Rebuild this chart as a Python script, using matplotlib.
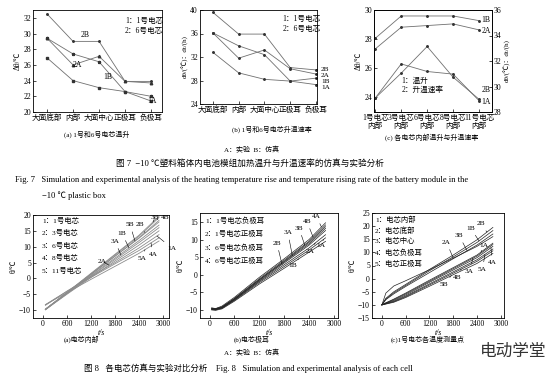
import matplotlib
matplotlib.use("Agg")
import matplotlib.pyplot as plt

plt.rcParams['font.family'] = ['Liberation Serif', 'Noto Sans CJK SC']
plt.rcParams['axes.unicode_minus'] = True

W, H = 554, 378

# ---- Fig 7 data ----
pos7 = ["大面底部", "内部", "大面中心", "正极耳", "负极耳"]
rise_1A = [26.9, 24.0, 23.1, 22.6, 21.4]
rise_1B = [29.4, 27.4, 26.4, 22.6, 22.0]
rise_2A = [29.4, 26.0, 27.1, 23.9, 23.7]
rise_2B = [32.5, 29.0, 29.0, 23.9, 23.9]

rate_1A = [32.8, 29.3, 28.2, 27.9, 27.3]
rate_1B = [36.1, 33.9, 32.4, 27.9, 28.4]
rate_2A = [36.1, 31.8, 33.2, 30.0, 29.1]
rate_2B = [39.6, 35.9, 35.9, 30.2, 29.8]
rate_lbl_y = [29.9, 28.9, 27.9, 26.8]   # label heights for 2B, 2A, 1B, 1A

cells7 = ["1号电芯\n内部", "3号电芯\n内部", "6号电芯\n内部", "8号电芯\n内部", "11号电芯\n内部"]
cell_rise_A = [23.96, 26.3, 25.78, 25.6, 23.78]   # left axis
cell_rise_B = [28.06, 29.59, 29.59, 29.59, 29.27]
cell_rate_A = [32.95, 34.65, 34.78, 34.91, 34.44]  # right axis
cell_rate_B = [29.1, 31.05, 33.14, 30.73, 29.0]

# ---- Fig 8 data ----
t8a = [60, 300, 600, 1200, 1800, 2400, 2900]
core = {
    "3B": [-9.8, -7.4, -4.4, 1.6, 7.6, 13.6, 19.6],
    "4B": [-9.8, -7.4, -4.5, 1.4, 7.4, 13.3, 19.2],
    "5B": [-9.7, -7.4, -4.5, 1.3, 7.0, 12.7, 17.8],
    "2B": [-9.8, -7.5, -4.6, 1.2, 7.0, 12.8, 18.3],
    "1B": [-9.7, -7.5, -4.7, 0.9, 6.4, 11.9, 16.8],
    "3A": [-9.9, -7.6, -4.8, 0.7, 6.0, 11.3, 16.0],
    "2A": [-9.9, -7.7, -5.0, 0.3, 5.5, 10.5, 15.0],
    "1A": [-8.5, -6.5, -4.0, 0.6, 5.0, 9.6, 13.8],
    "4A": [-8.3, -6.4, -4.1, 0.3, 4.6, 8.8, 12.8],
    "5A": [-8.3, -6.6, -4.5, -0.3, 3.8, 7.9, 11.8],
}
core_lbl = {"3B": (2800, 19.2), "4B": (3050, 19.2), "5B": (2175, 17.0), "2B": (2425, 17.0),
            "1B": (1975, 14.2), "3A": (1800, 11.7), "2A": (1475, 5.4), "1A": (3230, 9.5),
            "4A": (2750, 7.6), "5A": (2475, 6.3)}
core_at = {"3B": 2750, "4B": 2850, "5B": 2300, "2B": 2550, "1B": 2150, "3A": 1950,
           "2A": 1650, "1A": 2850, "4A": 2700, "5A": 2550}

t8b = [50, 150, 300, 600, 1200, 1800, 2400, 2800]
tab = {
    "4A": [-9.6, -9.7, -9.0, -6.5, -0.8, 4.5, 10.0, 14.8],
    "4B": [-9.8, -9.9, -9.3, -6.8, -1.2, 4.1, 9.5, 14.2],
    "3B": [-9.9, -10.0, -9.4, -7.0, -1.5, 3.8, 9.2, 13.7],
    "3A": [-9.5, -9.7, -9.2, -6.9, -1.5, 3.6, 8.8, 13.2],
    "2B": [-10.0, -10.1, -9.6, -7.2, -1.8, 3.3, 8.4, 12.6],
    "2A": [-9.7, -9.8, -9.4, -7.2, -2.0, 2.8, 7.6, 11.4],
    "1A": [-9.8, -9.9, -9.6, -7.4, -2.3, 2.3, 7.0, 10.5],
    "1B": [-10.1, -10.2, -9.8, -7.6, -2.7, 1.8, 6.4, 9.5],
}
tab_lbl = {"4A": (2580, 16.6), "4B": (2350, 15.2), "3B": (2160, 13.3), "3A": (1890, 12.0),
           "2B": (1625, 9.0), "2A": (2425, 6.6), "1A": (2690, 8.2), "1B": (2005, 2.7)}
tab_at = {"4A": 2700, "4B": 2500, "3B": 2300, "3A": 2000, "2B": 1750, "2A": 2550,
          "1A": 2750, "1B": 2150}

t8c = [0, 100, 300, 600, 1200, 1800, 2400, 2800]
points = {
    "2B": [-10, -7.5, -5.0, -2.2, 3.5, 9.0, 14.8, 19.5],
    "1B": [-10, -7.8, -5.4, -2.6, 3.0, 8.3, 13.8, 18.3],
    "3B": [-10, -8.0, -5.8, -3.0, 2.3, 7.6, 12.8, 17.0],
    "2A": [-10, -5.5, -2.8, -0.8, 3.4, 7.8, 12.3, 16.0],
    "1A": [-10, -9.2, -7.8, -5.5, -0.6, 4.2, 9.0, 13.5],
    "3A": [-10, -9.3, -8.0, -5.8, -1.0, 3.8, 8.6, 13.0],
    "4A": [-10, -9.4, -8.3, -6.2, -1.4, 3.3, 8.0, 12.3],
    "5A": [-10, -9.5, -8.6, -6.6, -2.0, 2.6, 7.2, 11.3],
    "4B": [-10, -9.6, -8.8, -6.9, -2.4, 2.1, 6.6, 10.6],
    "5B": [-10, -9.7, -9.0, -7.2, -2.9, 1.5, 5.8, 9.6],
}
pts_lbl = {"2B": (2495, 20.9), "1B": (2240, 19.2), "3B": (1945, 16.4), "2A": (1632, 13.8),
           "1A": (2563, 12.8), "3A": (2200, 2.9), "5A": (2538, 3.6), "4A": (2792, 6.1),
           "4B": (1903, 0.4), "5B": (1565, -2.2)}
pts_at = {"2B": 2650, "1B": 2450, "3B": 2150, "2A": 1800, "1A": 2500, "3A": 2300,
          "5A": 2600, "4A": 2750, "4B": 2000, "5B": 1750}


def box(l, t, r, b):
    return [l / W, 1 - b / H, (r - l) / W, (b - t) / H]


def ftext(x, y, s, **kw):
    fig.text(x / W, 1 - y / H, s, **kw)


def style(ax, fs=5.5):
    ax.tick_params(direction='in', length=2, width=0.5, labelsize=fs, pad=1.5)
    for sp in ax.spines.values():
        sp.set_linewidth(0.6)


def interp(ts, vs, t):
    for i in range(len(ts) - 1):
        if ts[i] <= t <= ts[i + 1]:
            f = (t - ts[i]) / (ts[i + 1] - ts[i])
            return vs[i] + f * (vs[i + 1] - vs[i])
    return vs[-1]


fig = plt.figure(figsize=(W / 100, H / 100), dpi=100)
lc = '#707070'
mk = dict(ms=2.2, lw=0.6, color=lc, mfc='#333333', mec='#333333')

# ---- Fig 7 (a) ----
ax = fig.add_axes(box(33, 10, 162, 112))
x = range(len(pos7))
ax.plot(x, rise_2B, marker='.', **mk)
ax.plot(x, rise_2A, marker='^', **{**mk, 'ms': 1.8})
ax.plot(x, rise_1B, marker='*', **mk)
ax.plot(x, rise_1A, marker='s', **{**mk, 'ms': 1.6})
ax.set_xlim(-0.54, 4.42)
ax.set_ylim(20, 33)
ax.set_yticks(range(20, 33, 2))
ax.set_xticks(list(x))
ax.set_xticklabels(pos7, fontsize=4.8)
ax.set_ylabel("Δθ/℃", fontsize=5.5, labelpad=1)
style(ax)
for s, xx, yy in [("2B", 1.3, 29.6), ("2A", 1.0, 25.7), ("1B", 2.15, 24.2), ("1A", 3.85, 21.15)]:
    ax.text(xx, yy, s, fontsize=5.5)
ax.text(3.0, 31.3, "1：1号电芯", fontsize=5.5)
ax.text(3.0, 30.1, "2：6号电芯", fontsize=5.5)

# ---- Fig 7 (b) ----
ax = fig.add_axes(box(200, 10, 317, 104))
ax.plot(x, rate_2B, marker='.', **mk)
ax.plot(x, rate_2A, marker='.', **mk)
ax.plot(x, rate_1B, marker='.', **mk)
ax.plot(x, rate_1A, marker='.', **mk)
ax.set_xlim(-0.5, 4.04)
ax.set_ylim(24, 40)
ax.set_yticks(range(24, 41, 4))
ax.set_xticks(list(x))
ax.set_xticklabels(pos7, fontsize=4.8)
ax.set_ylabel("dθ/(℃)：dt/(h)", fontsize=5, labelpad=1)
style(ax)
for s, v, ly in zip(["2B", "2A", "1B", "1A"], [rate_2B[-1], rate_2A[-1], rate_1B[-1], rate_1A[-1]], rate_lbl_y):
    ax.annotate(s, (4, v), xytext=(4.2, ly), fontsize=5.2, va='center',
                annotation_clip=False, arrowprops=dict(arrowstyle='-', lw=0.4, shrinkA=0.5, shrinkB=0))
ax.text(2.7, 38.2, "1：1号电芯", fontsize=5.5)
ax.text(2.7, 36.5, "2：6号电芯", fontsize=5.5)

# ---- Fig 7 (c) ----
ax = fig.add_axes(box(374, 10, 492, 112))
ax2 = ax.twinx()
ax.plot(x, cell_rise_B, marker='.', **mk)
ax.plot(x, cell_rise_A, marker='.', **mk)
ax2.plot(x, cell_rate_A, marker='.', **mk)
ax2.plot(x, cell_rate_B, marker='.', **mk)
ax.set_xlim(-0.05, 4.5)
ax.set_ylim(23, 30)
ax2.set_ylim(28, 36)
ax2.set_yticks(range(28, 37, 2))
ax.set_xticks(list(x))
ax.set_xticklabels(cells7, fontsize=4.3, linespacing=0.95)
ax.set_ylabel("Δθ/℃", fontsize=5.5, labelpad=1)
ax2.set_ylabel("dθ/(℃)：dt/(h)", fontsize=5, labelpad=1)
style(ax)
style(ax2)
ax2.text(4.1, 29.6, "2B", fontsize=5.5)
ax2.text(4.1, 28.6, "1A", fontsize=5.5)
ax.text(4.1, 29.2, "1B", fontsize=5.5)
ax.text(4.1, 28.8, "2A", fontsize=5.5, va='top')
ax.text(1.0, 25.0, "1：温升", fontsize=5.5)
ax.text(1.0, 24.4, "2：升温速率", fontsize=5.5)

# ---- Fig 7 captions ----
ftext(97, 137, "(a) 1号和6号电芯温升", fontsize=5, ha='center')
ftext(272, 132, "(b) 1号和6号电芯升温速率", fontsize=5, ha='center')
ftext(432, 140, "(c) 各电芯内部温升与升温速率", fontsize=5, ha='center')
ftext(252, 152, "A：实验  B：仿真", fontsize=5, ha='center')
ftext(250, 166, "图 7  −10 ℃塑料箱体内电池模组加热温升与升温速率的仿真与实验分析", fontsize=6.2, ha='center')
ftext(15, 182, "Fig. 7   Simulation and experimental analysis of the heating temperature rise and temperature rising rate of the battery module in the",
      fontsize=6.1, ha='left')
ftext(42, 198, "−10 ℃ plastic box", fontsize=6.1, ha='left')


def fig8(ax, ts, data, lbl, at, color, lw, xlim, ylim, yticks):
    for k, v in data.items():
        ax.plot(ts, v, color=color, lw=lw)
    for k, (tx, ty) in lbl.items():
        px = at[k]
        py = interp(ts, data[k], px)
        ax.annotate(k, (px, py), xytext=(tx, ty), fontsize=5.3, ha='center', va='center',
                    annotation_clip=False,
                    arrowprops=dict(arrowstyle='-', lw=0.4, shrinkA=1.5, shrinkB=0))
    ax.set_xlim(*xlim)
    ax.set_ylim(*ylim)
    ax.set_yticks(yticks)
    ax.set_xticks(range(0, 3001, 600))
    ax.set_xlabel("t/s", fontsize=5.5, style='italic', labelpad=0.5)
    ax.set_ylabel("θ/℃", fontsize=5.5, labelpad=1)
    style(ax)


ax = fig.add_axes(box(33, 215, 169, 318))
fig8(ax, t8a, core, core_lbl, core_at, '#8c8c8c', 0.6, (-250, 3150), (-12.5, 20), range(-10, 21, 5))
for i, s in enumerate(["1：1号电芯", "2：3号电芯", "3：6号电芯", "4：8号电芯", "5：11号电芯"]):
    ftext(42, 220 + i * 12.5, s, fontsize=5.3, va='center')

ax = fig.add_axes(box(200, 213, 338, 318))
fig8(ax, t8b, tab, tab_lbl, tab_at, '#222222', 0.5, (-230, 3100), (-12.4, 17.6), range(-10, 16, 5))
for i, s in enumerate(["1：1号电芯负极耳", "2：1号电芯正极耳", "3：6号电芯负极耳", "4：6号电芯正极耳"]):
    ftext(205, 220 + i * 13.5, s, fontsize=5.3, va='center')

ax = fig.add_axes(box(372, 213, 504, 318))
fig8(ax, t8c, points, pts_lbl, pts_at, '#222222', 0.5, (-250, 3080), (-15, 25), range(-15, 26, 5))
for i, s in enumerate(["1：电芯内部", "2：电芯底部", "3：电芯中心", "4：电芯负极耳", "5：电芯正极耳"]):
    ftext(375, 219 + i * 11, s, fontsize=5.3, va='center')

ftext(82, 342, "(a)电芯内部", fontsize=5, ha='center')
ftext(252, 342, "(b)电芯极耳", fontsize=5, ha='center')
ftext(428, 342, "(c)1号电芯各温度测量点", fontsize=5, ha='center')
ftext(252, 355, "A：实验  B：仿真", fontsize=5, ha='center')
ftext(248, 371, "图 8   各电芯仿真与实验对比分析    Fig. 8   Simulation and experimental analysis of each cell",
      fontsize=6.1, ha='center')
ftext(513, 352, "电动学堂", fontsize=12, ha='center', va='center', color='#333333')

fig.savefig("out.png", dpi=100)
